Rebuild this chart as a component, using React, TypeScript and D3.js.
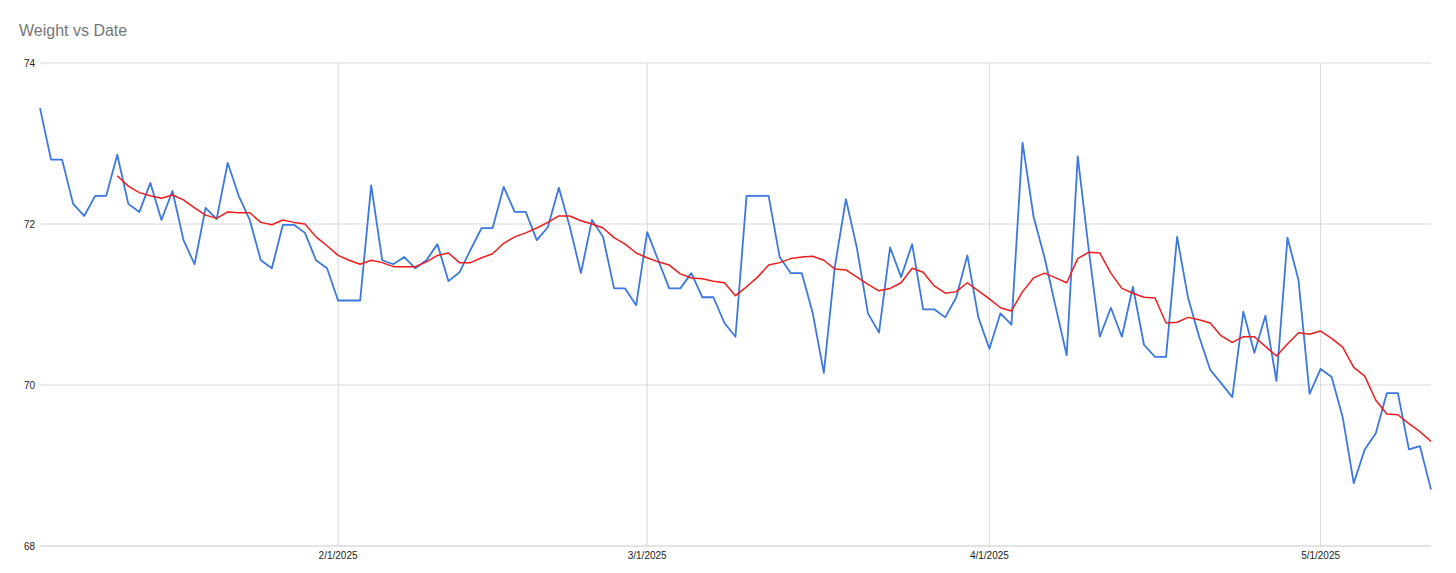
import React from 'react'
import * as d3 from "d3";

// daily weigh-ins, 1/5/2025 .. 5/11/2025
const firstDay = "2025-01-05"
const janWeights = [73.44, 72.80, 72.80, 72.25, 72.10, 72.35, 72.35, 72.86, 72.25, 72.15, 72.51, 72.05, 72.41, 71.80, 71.50, 72.20, 72.06, 72.76, 72.35, 72.05, 71.55, 71.45, 71.99, 71.99, 71.89, 71.55, 71.45]
const febWeights = [71.05, 71.05, 71.05, 72.48, 71.55, 71.50, 71.59, 71.45, 71.55, 71.75, 71.29, 71.40, 71.68, 71.95, 71.95, 72.46, 72.15, 72.15, 71.80, 71.96, 72.45, 71.96, 71.39, 72.05, 71.84, 71.20, 71.20, 70.99]
const marWeights = [71.90, 71.55, 71.20, 71.20, 71.39, 71.09, 71.09, 70.77, 70.60, 72.35, 72.35, 72.35, 71.59, 71.39, 71.39, 70.89, 70.15, 71.47, 72.31, 71.70, 70.89, 70.65, 71.71, 71.34, 71.75, 70.94, 70.94, 70.84, 71.09, 71.61, 70.84]
const aprWeights = [70.45, 70.89, 70.75, 73.01, 72.09, 71.58, 70.97, 70.37, 72.84, 71.68, 70.60, 70.96, 70.60, 71.22, 70.50, 70.35, 70.35, 71.84, 71.08, 70.60, 70.19, 70.02, 69.85, 70.91, 70.40, 70.86, 70.05, 71.83, 71.30, 69.89]
const mayWeights = [70.20, 70.10, 69.60, 68.78, 69.20, 69.40, 69.90, 69.90, 69.20, 69.24, 68.70]

// moving average (red), 1/12/2025 .. 5/11/2025
const avgFirstDay = "2025-01-12"
const janAvg = [72.60, 72.47, 72.39, 72.35, 72.32, 72.36, 72.30, 72.20, 72.11, 72.07, 72.15, 72.14, 72.14, 72.02, 71.99, 72.05, 72.02, 72.00, 71.84, 71.73]
const febAvg = [71.61, 71.55, 71.50, 71.55, 71.52, 71.47, 71.47, 71.47, 71.53, 71.61, 71.64, 71.52, 71.52, 71.58, 71.63, 71.76, 71.84, 71.89, 71.95, 72.02, 72.10, 72.10, 72.04, 72.00, 71.95, 71.83, 71.75, 71.64]
const marAvg = [71.58, 71.53, 71.49, 71.38, 71.33, 71.32, 71.29, 71.27, 71.11, 71.22, 71.34, 71.49, 71.52, 71.57, 71.59, 71.60, 71.55, 71.44, 71.43, 71.34, 71.25, 71.17, 71.20, 71.27, 71.45, 71.40, 71.23, 71.14, 71.16, 71.27, 71.17]
const aprAvg = [71.07, 70.96, 70.92, 71.16, 71.33, 71.39, 71.33, 71.27, 71.57, 71.65, 71.64, 71.39, 71.20, 71.14, 71.09, 71.08, 70.77, 70.78, 70.84, 70.81, 70.77, 70.61, 70.53, 70.60, 70.60, 70.48, 70.36, 70.51, 70.65, 70.63]
const mayAvg = [70.67, 70.58, 70.47, 70.22, 70.11, 69.81, 69.64, 69.63, 69.52, 69.42, 69.30]

const xTicks = ["2025-02-01", "2025-03-01", "2025-04-01", "2025-05-01"]
const xTickLabels = ["2/1/2025", "3/1/2025", "4/1/2025", "5/1/2025"]
const yTicks = [68, 70, 72, 74]

interface point {
  date: Date;
  value: number;
}

const parse = d3.utcParse("%Y-%m-%d")

const toSeries = (start: string, values: number[]): point[] => {
  const s = parse(start) as Date
  return values.map((v, i) => ({ date: d3.utcDay.offset(s, i), value: v }))
}

const weightData = toSeries(firstDay, [...janWeights, ...febWeights, ...marWeights, ...aprWeights, ...mayWeights])
const avgData = toSeries(avgFirstDay, [...janAvg, ...febAvg, ...marAvg, ...aprAvg, ...mayAvg])

export default function App() {
  const dimensions = {
    width: 1456,
    height: 573,
    margin: { top: 63, right: 25, bottom: 27, left: 40 },
  }
  const boundedWidth = dimensions.width - dimensions.margin.left - dimensions.margin.right
  const boundedHeight = dimensions.height - dimensions.margin.top - dimensions.margin.bottom

  const xScale = d3.scaleUtc()
    .domain(d3.extent(weightData, d => d.date) as [Date, Date])
    .range([0, boundedWidth])

  const yScale = d3.scaleLinear()
    .domain([68, 74])
    .range([boundedHeight, 0])

  const lineGenerator = d3.line<point>()
    .x(d => xScale(d.date))
    .y(d => yScale(d.value))

  const font = "'Liberation Sans', Arial, sans-serif"

  return (
    <svg
      width={dimensions.width}
      height={dimensions.height}
      style={{ position: "absolute", left: 0, top: 0, background: "#fff" }}
    >
      <text x={19} y={36} fontFamily={font} fontSize={16} fill="#757575">Weight vs Date</text>
      <g transform={`translate(${dimensions.margin.left},${dimensions.margin.top})`}>
        {yTicks.map(t => (
          <g key={t}>
            <line x1={0} x2={boundedWidth} y1={yScale(t)} y2={yScale(t)} stroke={t === 68 ? "#c8c8c8" : "#d9d9d9"} strokeWidth={1} />
            <text x={-5} y={yScale(t)} dy="0.35em" textAnchor="end" fontFamily={font} fontSize={10} fill="#222">{t}</text>
          </g>
        ))}
        {xTicks.map((t, i) => {
          const x = xScale(parse(t) as Date)
          return (
            <g key={t}>
              <line x1={x} x2={x} y1={0} y2={boundedHeight} stroke="#d9d9d9" strokeWidth={1} />
              <text x={x} y={boundedHeight + 13} textAnchor="middle" fontFamily={font} fontSize={10} fill="#222">{xTickLabels[i]}</text>
            </g>
          )
        })}
        <path d={lineGenerator(weightData) as string} fill="none" stroke="#3b78e0" strokeWidth={1.8} strokeLinejoin="round" />
        <path d={lineGenerator(avgData) as string} fill="none" stroke="#ee1c1c" strokeWidth={1.5} strokeLinejoin="round" />
      </g>
    </svg>
  )
}
